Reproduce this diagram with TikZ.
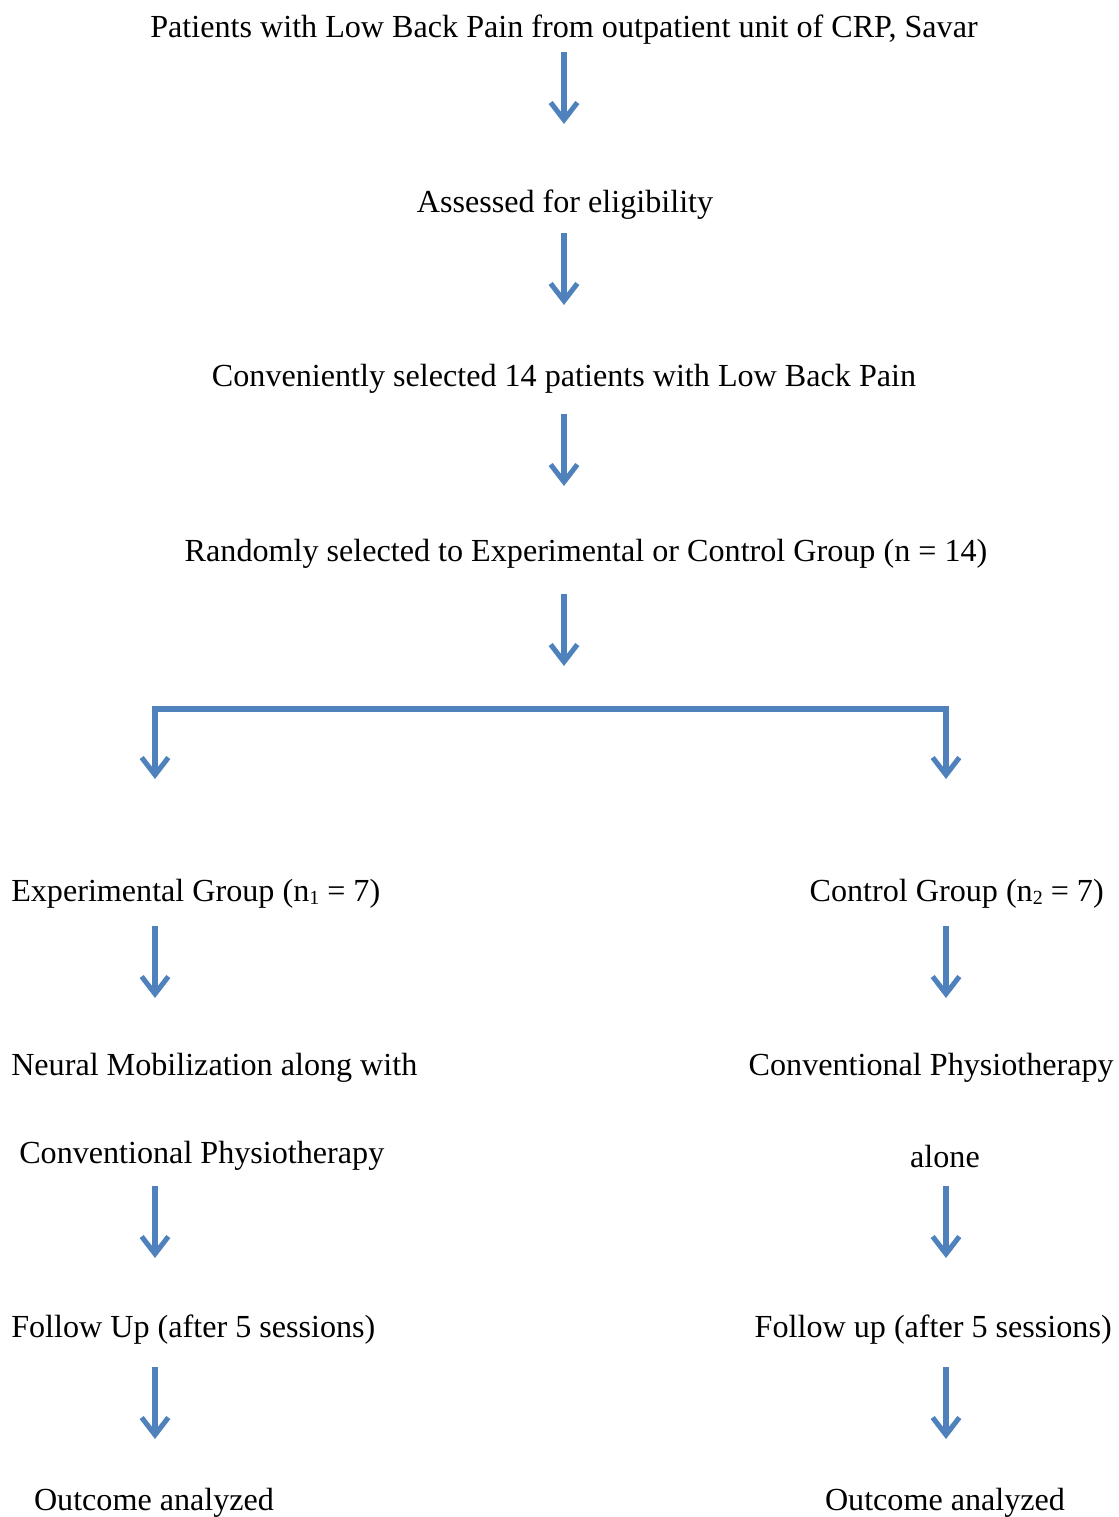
\documentclass[tikz,border=0pt]{standalone}
\usepackage{fontspec}
\setmainfont{Liberation Serif}
\usetikzlibrary{arrows.meta}
\definecolor{arrowblue}{RGB}{79,129,189}
\tikzset{
  x=0.75pt, y=-0.75pt,
  lbl/.style={inner sep=0pt, font=\fontsize{24.1pt}{29pt}\selectfont},
  flow/.style={draw=arrowblue, line width=3.8pt,
    -{Straight Barb[length=13pt, width=20pt, line width=3.8pt]}},
}
\newcommand{\subn}[1]{\raisebox{-2pt}{\fontsize{15pt}{17pt}\selectfont #1}}
\begin{document}
\begin{tikzpicture}
\useasboundingbox (0,0) rectangle (1118,1517);
% top column
\node[lbl] (t1) at (564,30) {Patients with Low Back Pain from outpatient unit of CRP, Savar};
\node[lbl] (t2) at (565,205) {Assessed for eligibility};
\node[lbl] (t3) at (564,379) {Conveniently selected 14 patients with Low Back Pain};
\node[lbl] (t4) at (586,554) {Randomly selected to Experimental or Control Group (n = 14)};
% left column
\node[lbl, anchor=west] (l1) at (11,894) {Experimental Group (n\subn{1} = 7)};
\node[lbl, anchor=west] (l2) at (11,1068) {Neural Mobilization along with};
\node[lbl, anchor=west] (l3) at (19,1156) {Conventional Physiotherapy};
\node[lbl, anchor=west] (l4) at (11,1330) {Follow Up (after 5 sessions)};
\node[lbl] (l5) at (154,1503) {Outcome analyzed};
% right column
\node[lbl, anchor=east] (r1) at (1104,894) {Control Group (n\subn{2} = 7)};
\node[lbl, anchor=east] (r2) at (1114,1068) {Conventional Physiotherapy};
\node[lbl] (r3) at (945,1156) {alone};
\node[lbl, anchor=east] (r4) at (1112,1330) {Follow up (after 5 sessions)};
\node[lbl] (r5) at (945,1503) {Outcome analyzed};
% arrow coordinates
\coordinate (a1s) at (564,52);  \coordinate (a1e) at (564,124);
\coordinate (a2s) at (564,233); \coordinate (a2e) at (564,305);
\coordinate (a3s) at (564,414); \coordinate (a3e) at (564,486);
\coordinate (a4s) at (564,594); \coordinate (a4e) at (564,666);
\coordinate (bl) at (155,709); \coordinate (br) at (946,709);
\coordinate (ble) at (155,779); \coordinate (bre) at (946,779);
\coordinate (l1s) at (155,926);  \coordinate (l1e) at (155,998);
\coordinate (l3s) at (155,1186); \coordinate (l3e) at (155,1258);
\coordinate (l4s) at (155,1367); \coordinate (l4e) at (155,1439);
\coordinate (r1s) at (946,926);  \coordinate (r1e) at (946,998);
\coordinate (r3s) at (946,1186); \coordinate (r3e) at (946,1258);
\coordinate (r4s) at (946,1367); \coordinate (r4e) at (946,1439);
% arrows
\draw[flow] (a1s) -- (a1e);
\draw[flow] (a2s) -- (a2e);
\draw[flow] (a3s) -- (a3e);
\draw[flow] (a4s) -- (a4e);
\draw[flow] (bl) -- (ble);
\draw[flow] (br) -- (bre);
\draw[draw=arrowblue, line width=3.8pt, line cap=rect] (bl) -- (br);
\draw[flow] (l1s) -- (l1e);
\draw[flow] (l3s) -- (l3e);
\draw[flow] (l4s) -- (l4e);
\draw[flow] (r1s) -- (r1e);
\draw[flow] (r3s) -- (r3e);
\draw[flow] (r4s) -- (r4e);
\end{tikzpicture}
\end{document}
